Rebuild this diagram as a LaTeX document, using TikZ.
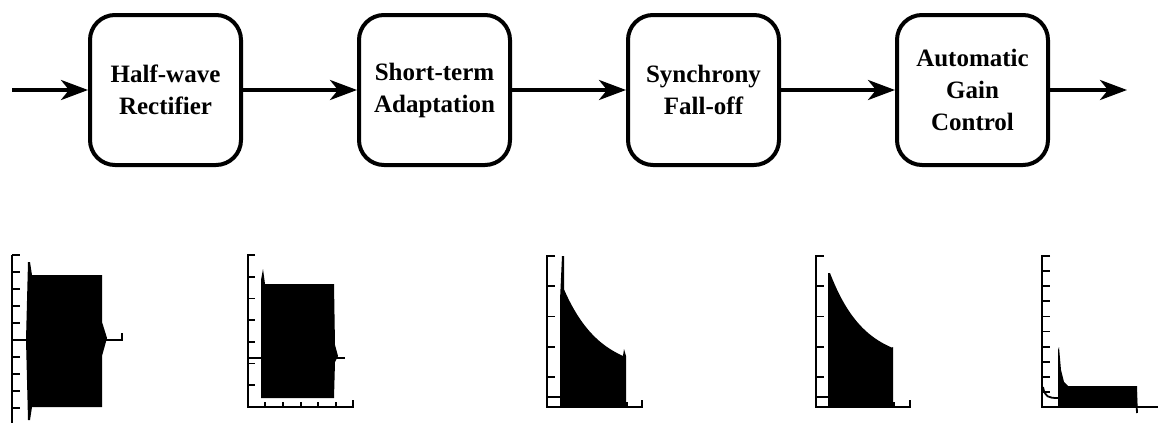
\documentclass[tikz,border=0pt]{standalone}
\usepackage{fontspec}
\setmainfont{Liberation Serif}
\usepackage{tikz}
\usetikzlibrary{arrows.meta}
\usetikzlibrary{positioning}

\begin{document}
\begin{tikzpicture}
          [x=0.5pt, y=-0.5pt,
           block/.style={draw, rounded corners=12.5pt, line width=2pt,
             minimum width=75.5pt, minimum height=75pt, align=center,
             font=\fontsize{12.5}{16}\selectfont\bfseries},
           flow/.style={line width=1.8pt, -{Stealth[length=13.5pt,width=10pt,inset=4pt]}},
           axis/.style={line width=0.9pt}]
          \useasboundingbox (0,0) rectangle (1158,423);

          \coordinate (in) at (12,90);
          \node (hwr) [block] at (165.5,90) {Half-wave\\Rectifier};
          \node (sta) [block, right = 57pt of hwr] {Short-term\\Adaptation};
          \node (sfo) [block, right = 57pt of sta] {Synchrony\\Fall-off};
          \node (agc) [block, right = 57pt of sfo] {Automatic\\Gain\\Control};
          \coordinate (out) at (1127,90);

          \draw[flow] (in) -- (hwr.west);
          \draw[flow] (hwr.east) -- (sta.west);
          \draw[flow] (sta.east) -- (sfo.west);
          \draw[flow] (sfo.east) -- (agc.west);
          \draw[flow] (agc.east) -- (out);

          % half-wave rectifier output
          \draw[axis] (12,255) -- (12,423);
          \foreach \t in {0,...,9} \draw[axis] (12,{255+17*\t}) -- (20,{255+17*\t});
          \draw[axis] (12,340) -- (122,340) -- (122,333);
          \fill (26,340) -- (28,262) -- (30,262) -- (32,275) -- (102,275) -- (102,322)
                -- (107,338) -- (102,356) -- (102,407) -- (32,407) -- (30,420) -- (28,420) -- cycle;

          % short-term adaptation output
          \draw[axis] (255,255) -- (248,255) -- (248,407) -- (353,407) -- (353,400);
          \foreach \t in {1,...,6} \draw[axis] (248,{255+21.7*\t}) -- (255,{255+21.7*\t});
          \foreach \t in {265,283,301,318,336} \draw[axis] (\t,407) -- (\t,402);
          \draw[axis] (248,358) -- (345,358);
          \fill (261,398) -- (261,280) -- (263,269) -- (265,284) -- (334,284) -- (335,345)
                -- (338,356) -- (335,362) -- (334,398) -- cycle;

          % synchrony fall-off output
          \draw[axis] (555,256) -- (547,256) -- (547,407) -- (642,407) -- (642,400);
          \foreach \t in {1,...,4} \draw[axis] (547,{256+30.2*\t}) -- (555,{256+30.2*\t});
          \foreach \t in {573,591,609,627} \draw[axis] (\t,407) -- (\t,402);
          \draw[axis] (547,397) -- (560,397);
          \fill (560,407) -- (560,300) -- (562,256) -- (564,256) -- (564,288)
                -- plot[domain=564:623, samples=40] (\x, {407-35-85*exp(-(\x-563)/36)})
                -- (624,349) -- (626,356) -- (626,407) -- cycle;

          % automatic gain control input
          \draw[axis] (824,256) -- (816,256) -- (816,407) -- (910,407) -- (910,400);
          \foreach \t in {1,...,4} \draw[axis] (816,{256+30.2*\t}) -- (824,{256+30.2*\t});
          \foreach \t in {840,858,876,894} \draw[axis] (\t,407) -- (\t,402);
          \draw[axis] (816,397) -- (828,397);
          \fill (828,407) -- (828,273)
                -- plot[domain=830:892, samples=40] (\x, {407-45-89*exp(-(\x-830)/34)})
                -- (893,347) -- (893,407) -- cycle;

          % automatic gain control output
          \draw[axis] (1050,256) -- (1042,256) -- (1042,407) -- (1158,407);
          \foreach \t in {1,...,9} \draw[axis] (1042,{256+15.1*\t}) -- (1050,{256+15.1*\t});
          \draw[axis] (1043,387) .. controls (1045,397) and (1048,398) .. (1058,398);
          \fill (1058,407) -- (1058,350) -- (1059,347) -- (1061,370) -- (1064,382)
                -- (1068,386) -- (1137,386) -- (1137,407) -- cycle;
          \draw[axis] (1136,390) -- (1137,413);

        \end{tikzpicture}
\end{document}
